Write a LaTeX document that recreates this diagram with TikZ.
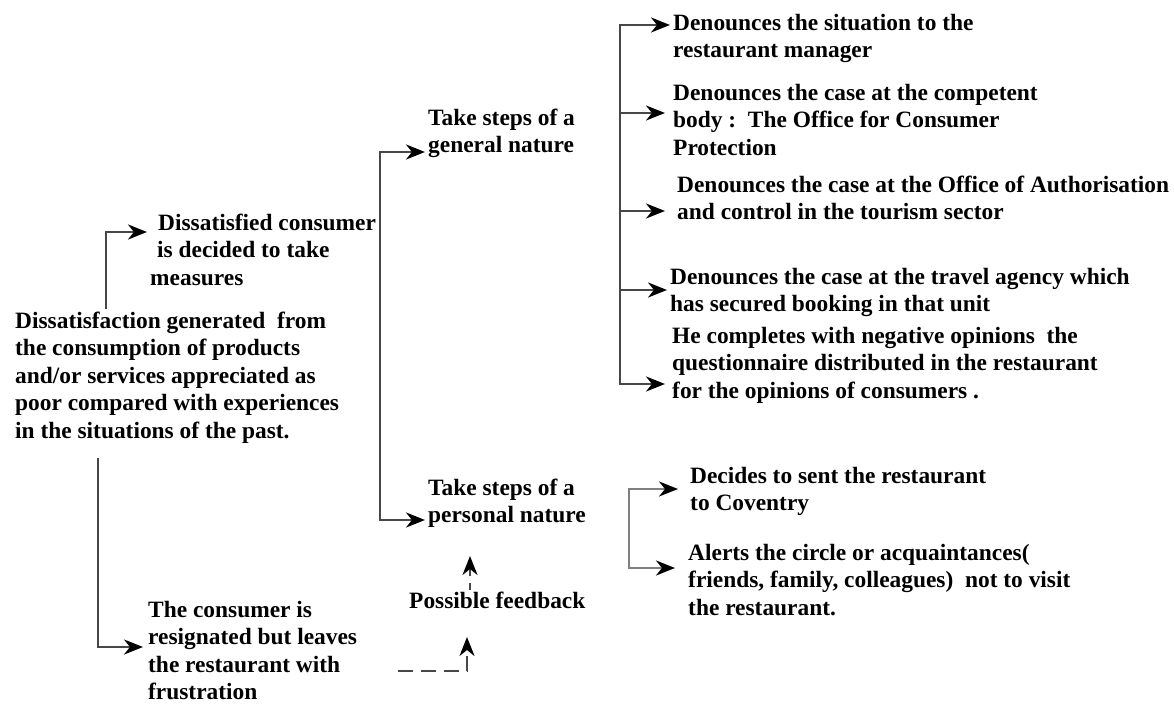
\documentclass[tikz,border=0pt]{standalone}
\usepackage{fontspec}
\setmainfont{Liberation Serif}
\usetikzlibrary{arrows.meta}

\tikzset{
  txt/.style={anchor=north west, inner sep=0pt, align=left,
    font=\fontsize{23.4}{27.5}\selectfont\bfseries, text=black},
  conn/.style={draw=black!72, line width=2.3pt},
  arr/.style={conn, -{Stealth[length=19pt,width=15pt,inset=6pt,black]}},
  softarr/.style={arr, draw=black!50},
  fbarr/.style={arr, dash pattern=on 15pt off 8pt},
  fbshort/.style={arr, dash pattern=on 7pt off 7pt},
}

\begin{document}
\begin{tikzpicture}[x=1pt,y=-1pt]
  \fill[white] (0,0) rectangle (1174,704);
  \useasboundingbox (0,0) rectangle (1174,704);

  % --- text blocks ---
  \node[txt] (cause) at (15,309) {\strut Dissatisfaction generated\ \ from\\the consumption of products\\and/or services appreciated as\\poor compared with experiences\\in the situations of the past.};
  \node[txt] (measures) at (150,211) {\strut\hspace*{8pt}Dissatisfied consumer\\\hspace*{7pt}is decided to take\\measures};
  \node[txt] (general) at (428,106) {\strut Take steps of a\\general nature};
  \node[txt] (personal) at (428,476) {\strut Take steps of a\\personal nature};
  \node[txt] (feedback) at (409,589) {\strut Possible feedback};
  \node[txt] (resign) at (148,598) {\strut The consumer is\\resignated but leaves\\the restaurant with\\frustration};

  \node[txt] (r1) at (673,11) {\strut Denounces the situation to the\\restaurant manager};
  \node[txt] (r2) at (673,81) {\strut Denounces the case at the competent\\body :\ \ The Office for Consumer\\Protection};
  \node[txt] (r3) at (677,173) {\strut Denounces the case at the Office of Authorisation\\and control in the tourism sector};
  \node[txt] (r4) at (670,265) {\strut Denounces the case at the travel agency which\\has secured booking in that unit};
  \node[txt] (r5) at (672,324) {\strut He completes with negative opinions\ \ the\\questionnaire distributed in the restaurant\\for the opinions of consumers .};

  \node[txt] (p1) at (690,464) {\strut Decides to sent the restaurant\\to Coventry};
  \node[txt] (p2) at (688,541) {\strut Alerts the circle or acquaintances(\\friends, family, colleagues)\ \ not to visit\\the restaurant.};

  % --- branching points ---
  \coordinate (split1) at (380,336);
  \coordinate (split2) at (620,200);
  \coordinate (split3) at (629,528);
  \coordinate (fbstart) at (398,671);

  % --- connectors ---
  \draw[arr] ([xshift=91pt]cause.north west) |- ([xshift=-3pt,yshift=-21pt]measures.north west);
  \draw[arr] ([xshift=83pt,yshift=-149pt]cause.north west) |- ([xshift=-5pt,yshift=-49pt]resign.north west);

  \draw[arr] (split1) |- ([xshift=-3pt,yshift=-46pt]general.north west);
  \draw[arr] (split1) |- ([xshift=-3pt,yshift=-44pt]personal.north west);

  \draw[arr] (split2) |- ([xshift=-3pt,yshift=-14pt]r1.north west);
  \draw[arr] (split2) |- ([xshift=-8pt,yshift=-32pt]r2.north west);
  \draw[arr] (split2) |- ([xshift=-12pt,yshift=-38pt]r3.north west);
  \draw[arr] (split2) |- ([xshift=-3pt,yshift=-25pt]r4.north west);
  \draw[arr] (split2) |- ([xshift=-7pt,yshift=-60pt]r5.north west);

  \draw[softarr] (split3) |- ([xshift=-12pt,yshift=-25pt]p1.north west);
  \draw[softarr] (split3) |- ([xshift=-13pt,yshift=-27pt]p2.north west);

  % --- feedback loop ---
  \draw[fbarr] (fbstart) -| ([xshift=58pt,yshift=-48pt]feedback.north west);
  \draw[fbshort] ([xshift=61pt,yshift=-1pt]feedback.north west) -- ([xshift=42pt,yshift=-80pt]personal.north west);
\end{tikzpicture}
\end{document}
